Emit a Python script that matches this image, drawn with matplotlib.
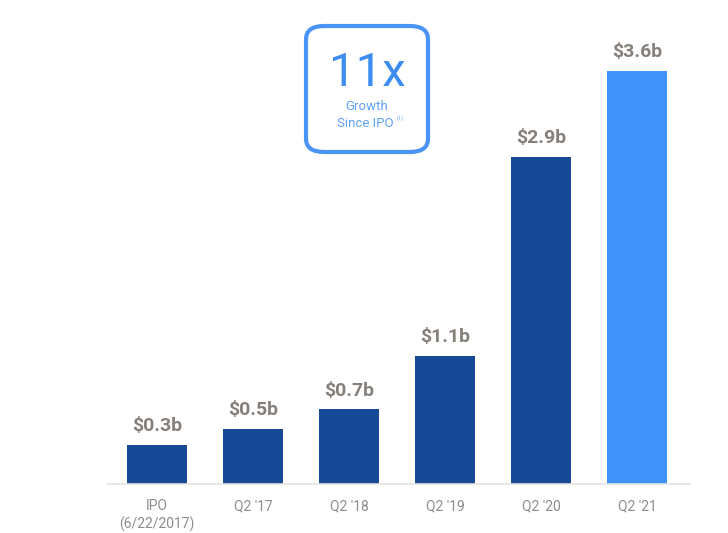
import matplotlib
matplotlib.use("Agg")
import matplotlib.pyplot as plt
from matplotlib.patches import FancyBboxPatch

categories = ["IPO\n(6/22/2017)", "Q2 '17", "Q2 '18", "Q2 '19", "Q2 '20", "Q2 '21"]
values = [0.34, 0.48, 0.65, 1.12, 2.85, 3.60]
labels = ["$0.3b", "$0.5b", "$0.7b", "$1.1b", "$2.9b", "$3.6b"]
dark = "#174A96"
light = "#4191FA"
colors = [dark] * 5 + [light]

W, H = 728, 533
fig = plt.figure(figsize=(W / 100, H / 100), dpi=100)
ax = fig.add_axes([108 / W, 49 / H, (690 - 108) / W, (484 - 20) / H])
x = list(range(len(categories)))
ax.bar(x, values, width=0.625, color=colors, zorder=2)
ax.set_xlim(-0.51, 5.55)
ax.set_ylim(0, 464 / 114.7)
for xi, v, lab in zip(x, values, labels):
    ax.annotate(lab, (xi, v), xytext=(0, 7), textcoords="offset points",
                ha="center", va="bottom", fontsize=14, fontweight="bold",
                color="#86807A", family="Roboto")
ax.set_xticks(x)
ax.set_xticklabels(categories, fontsize=10, color="#8C8C8C", family="Roboto",
                   linespacing=1.25)
ax.tick_params(axis="x", length=0, pad=11)
ax.set_yticks([])
for s in ["left", "right", "top"]:
    ax.spines[s].set_visible(False)
ax.spines["bottom"].set_color("#E3E3E3")
ax.spines["bottom"].set_linewidth(1.2)

# Callout box
bx0, by0, bx1, by1 = 306, 26, 428, 152
box = FancyBboxPatch((bx0 / W, 1 - by1 / H), (bx1 - bx0) / W, (by1 - by0) / H,
                     boxstyle="round,pad=0,rounding_size=0.025",
                     transform=fig.transFigure, fill=False,
                     edgecolor="#4A94F5", linewidth=3)
fig.patches.append(box)
cx = (bx0 + bx1) / 2 / W
fig.text(cx, 1 - 73 / H, "11x", ha="center", va="center", fontsize=34,
         color="#3D8CF0", family="Roboto", fontweight="normal")
fig.text(cx, 1 - 106 / H, "Growth", ha="center", va="center", fontsize=9.5,
         color="#5FA2F5", family="Roboto")
fig.text(cx - 0.003, 1 - 123 / H, "Since IPO", ha="center", va="center", fontsize=9.5,
         color="#5FA2F5", family="Roboto")
fig.text(cx + 0.046, 1 - 118 / H, "(1)", ha="center", va="center", fontsize=4,
         color="#5FA2F5", family="Roboto")

fig.savefig("out.png", dpi=100)
